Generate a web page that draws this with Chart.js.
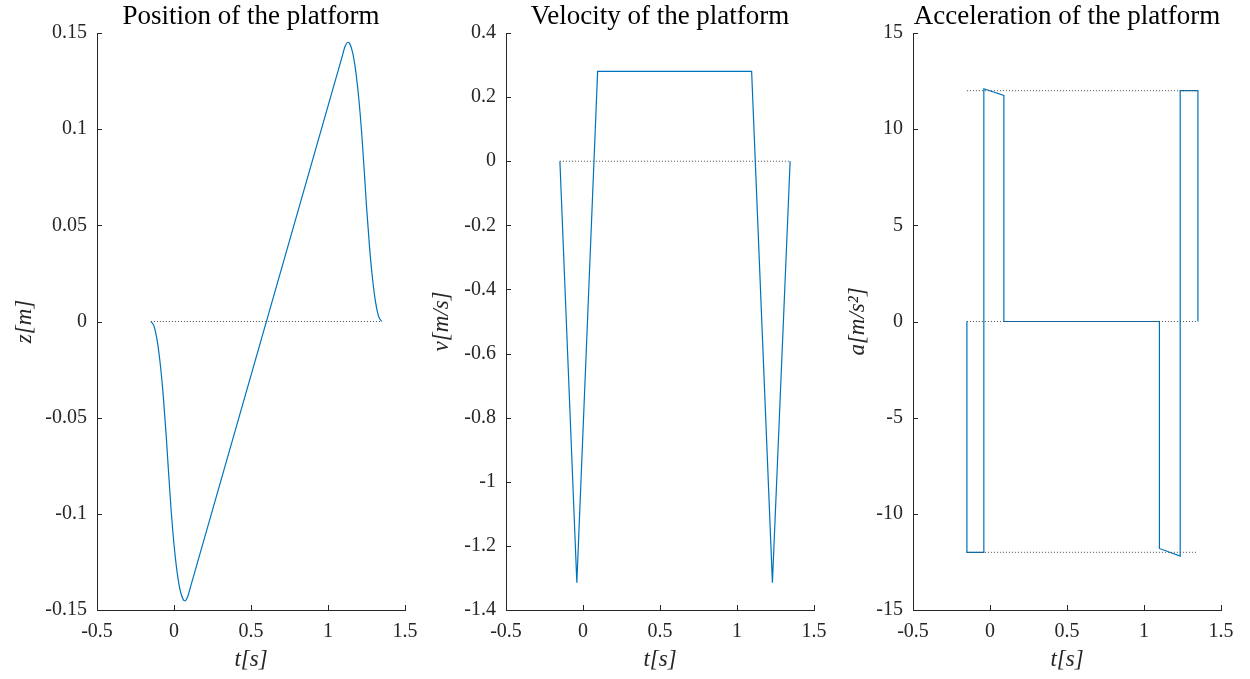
<!DOCTYPE html>
<html lang="en">

<head>
  <meta charset="UTF-8">
  <title>Platform motion</title>
  <script src="https://cdn.jsdelivr.net/npm/chart.js"></script>
  <style>
    body { margin: 0; background: #fff; }
    .painel { position: absolute; top: 0; }
  </style>
</head>

<body>
  <div class="painel" style="left:0px"><canvas id="chartPos" width="420" height="679"></canvas></div>
  <div class="painel" style="left:408px"><canvas id="chartVel" width="420" height="679"></canvas></div>
  <div class="painel" style="left:816px"><canvas id="chartAcc" width="420" height="679"></canvas></div>
</body>

</html>

<script>
  // ---- data ----
  const refT = [-0.15, 1.35];            // span of the dotted reference lines

  const posT = [-0.15, -0.13, -0.11, -0.09, -0.07, -0.05, -0.04, -0.02, 0.00, 0.02, 0.04, 0.06, 0.07, 0.09, 0.11,
    1.09, 1.11, 1.13, 1.14, 1.16, 1.18, 1.20, 1.22, 1.24, 1.25, 1.27, 1.29, 1.31, 1.33, 1.35];
  const posZ = [0, -0.0024, -0.0096, -0.0216, -0.0384, -0.060, -0.0726, -0.0966, -0.1158, -0.1302, -0.1398, -0.1446, -0.1452, -0.1428, -0.1372,
    0.1372, 0.1428, 0.1452, 0.1446, 0.1398, 0.1302, 0.1158, 0.0966, 0.0726, 0.060, 0.0384, 0.0216, 0.0096, 0.0024, 0];

  const velT = [-0.15, -0.04, 0.095, 1.095, 1.23, 1.345];
  const velV = [0, -1.315, 0.28, 0.28, -1.315, 0];

  const accT = [-0.15, -0.15, -0.04, -0.04, 0.09, 0.09, 1.10, 1.10, 1.235, 1.235, 1.35, 1.35];
  const accA = [0, -12, -12, 12.1, 11.75, 0, 0, -11.8, -12.2, 12, 12, 0];
  const accRefLevels = [12, 0, -12];

  const xTicks = [-0.5, 0, 0.5, 1, 1.5];
  const posTicks = [-0.15, -0.1, -0.05, 0, 0.05, 0.1, 0.15];
  const velTicks = [-1.4, -1.2, -1, -0.8, -0.6, -0.4, -0.2, 0, 0.2, 0.4];
  const accTicks = [-15, -10, -5, 0, 5, 10, 15];

  const corEixo = '#262626';
  const corLinha = '#0072BD';
  const fonteSerif = '"Liberation Serif", "DejaVu Serif", serif';

  // MATLAB style ticks pointing into the plot
  const ticksInternos = {
    id: 'ticksInternos',
    afterDraw(chart) {
      const ctx = chart.ctx;
      const area = chart.chartArea;
      const sx = chart.scales.x;
      const sy = chart.scales.y;
      ctx.save();
      ctx.strokeStyle = corEixo;
      ctx.lineWidth = 1;
      ctx.beginPath();
      sx.ticks.forEach(function (t) {
        const px = Math.round(sx.getPixelForValue(t.value)) + 0.5;
        ctx.moveTo(px, area.bottom);
        ctx.lineTo(px, area.bottom - 5);
      });
      sy.ticks.forEach(function (t) {
        const py = Math.round(sy.getPixelForValue(t.value)) + 0.5;
        ctx.moveTo(area.left, py);
        ctx.lineTo(area.left + 5, py);
      });
      ctx.stroke();
      ctx.restore();
    }
  };

  function pontos(ts, vs) {
    return ts.map(function (t, i) { return { x: t, y: vs[i] }; });
  }

  function formatar(v) {
    return String(+Number(v).toFixed(4));
  }

  function linhaRef(nivel) {
    return {
      data: pontos(refT, [nivel, nivel]),
      borderColor: '#4a4a4a',
      borderWidth: 1,
      borderDash: [1, 2],
      pointRadius: 0
    };
  }

  function criarGrafico(id, titulo, serie, suave, refs, yMin, yMax, yTicks, yTitulo, larguraY, padTituloY) {
    const datasets = refs.map(linhaRef);
    datasets.push({
      data: serie,
      borderColor: corLinha,
      borderWidth: 1.2,
      pointRadius: 0,
      tension: 0,
      cubicInterpolationMode: suave ? 'monotone' : 'default'
    });

    const config = {
      type: 'line',
      data: { datasets: datasets },
      options: {
        responsive: false,
        animation: false,
        layout: { padding: { left: 0, right: 420 - larguraY - 308, top: 0, bottom: 0 } },
        plugins: {
          legend: { display: false },
          tooltip: { enabled: false },
          title: {
            display: true,
            text: titulo,
            fullSize: false,
            color: '#000',
            font: { family: fonteSerif, size: 27, weight: 'normal', lineHeight: 1.0 },
            padding: { top: 3, bottom: 3 }
          }
        },
        scales: {
          x: {
            type: 'linear',
            min: -0.5,
            max: 1.5,
            afterBuildTicks: function (s) { s.ticks = xTicks.map(function (v) { return { value: v }; }); },
            afterFit: function (s) { s.height = 69; s.paddingLeft = 0; s.paddingRight = 0; },
            grid: { display: true, drawOnChartArea: false, drawTicks: false },
            border: { display: true, color: corEixo, width: 1 },
            ticks: { color: corEixo, padding: 10, font: { family: fonteSerif, size: 20 }, callback: formatar, maxRotation: 0 },
            title: {
              display: true, text: 't[s]', color: corEixo,
              font: { family: fonteSerif, size: 23, style: 'italic', lineHeight: 1.2 },
              padding: { top: 0, bottom: 5 }
            }
          },
          y: {
            type: 'linear',
            min: yMin,
            max: yMax,
            afterBuildTicks: function (s) { s.ticks = yTicks.map(function (v) { return { value: v }; }); },
            afterFit: function (s) { s.width = larguraY; s.paddingTop = 0; s.paddingBottom = 0; },
            grid: { display: true, drawOnChartArea: false, drawTicks: false },
            border: { display: true, color: corEixo, width: 1 },
            ticks: { color: corEixo, padding: 10, font: { family: fonteSerif, size: 20 }, callback: formatar },
            title: {
              display: true, text: yTitulo, color: corEixo,
              font: { family: fonteSerif, size: 23, style: 'italic', lineHeight: 1.2 },
              padding: { top: padTituloY, bottom: 0 }
            }
          }
        }
      },
      plugins: [ticksInternos]
    };

    return new Chart(document.getElementById(id), config);
  }

  let graficoPos = criarGrafico('chartPos', 'Position of the platform', pontos(posT, posZ), true, [0],
    -0.15, 0.15, posTicks, 'z[m]', 97, 11);

  let graficoVel = criarGrafico('chartVel', 'Velocity of the platform', pontos(velT, velV), false, [0],
    -1.4, 0.4, velTicks, 'v[m/s]', 98, 20);

  let graficoAcc = criarGrafico('chartAcc', 'Acceleration of the platform', pontos(accT, accA), false, accRefLevels,
    -15, 15, accTicks, 'a[m/s²]', 97, 28);
</script>
